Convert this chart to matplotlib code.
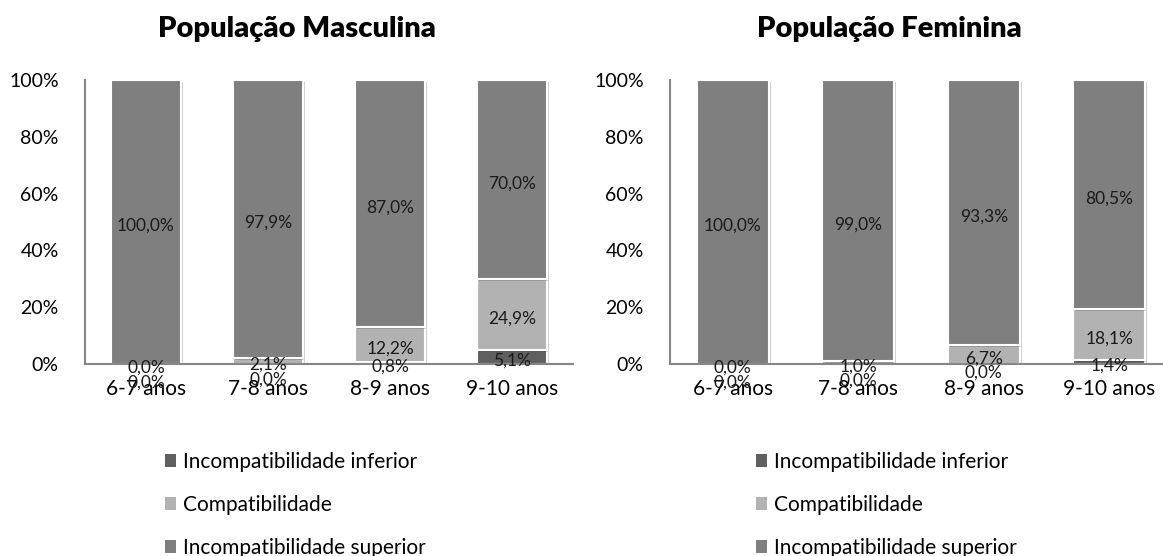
import matplotlib
matplotlib.use("Agg")
import matplotlib.pyplot as plt
import matplotlib.patheffects as pe
import matplotlib.transforms as mtransforms
from matplotlib.patches import Patch

categories = ["6-7 anos", "7-8 anos", "8-9 anos", "9-10 anos"]
series_names = ["Incompatibilidade inferior", "Compatibilidade", "Incompatibilidade superior"]
male_inferior = [0.0, 0.0, 0.8, 5.1]
male_compat = [0.0, 2.1, 12.2, 24.9]
male_superior = [100.0, 97.9, 87.0, 70.0]
female_inferior = [0.0, 0.0, 0.0, 1.4]
female_compat = [0.0, 1.0, 6.7, 18.1]
female_superior = [100.0, 99.0, 93.3, 80.5]
titles = ["População Masculina", "População Feminina"]
yticks = [0, 20, 40, 60, 80, 100]

colors = ["#5f5f5f", "#b2b2b2", "#7f7f7f"]

plt.rcParams["font.family"] = ["Lato", "DejaVu Sans"]

W, H = 1163, 556
fig = plt.figure(figsize=(W / 100, H / 100), dpi=100)

def ax_rect(x0, x1, ytop, ybot):
    return [x0 / W, 1 - ybot / H, (x1 - x0) / W, (ybot - ytop) / H]

axes = [fig.add_axes(ax_rect(85, 573, 80, 364)), fig.add_axes(ax_rect(670, 1172, 80, 364))]
data = [(male_inferior, male_compat, male_superior),
        (female_inferior, female_compat, female_superior)]
title_x = [297, 889]
legend_x = [165, 756]

shadow = [pe.SimplePatchShadow(offset=(1.5, -1.5), shadow_rgbFace="#000000", alpha=0.18), pe.Normal()]

def fmt(v):
    return f"{v:.1f}%".replace(".", ",")

for ax, (inf, comp, sup), title, tx, lx in zip(axes, data, titles, title_x, legend_x):
    x = list(range(len(categories)))
    bottoms = [0.0] * len(categories)
    centers_all = []
    for vals, col, name in zip((inf, comp, sup), colors, series_names):
        bars = ax.bar(x, vals, width=0.57, bottom=bottoms, color=col,
                      edgecolor="white", linewidth=1.5, label=name, zorder=2)
        for b in bars:
            b.set_path_effects(shadow)
        centers_all.append([b0 + v / 2 for b0, v in zip(bottoms, vals)])
        bottoms = [b0 + v for b0, v in zip(bottoms, vals)]
    trans = mtransforms.offset_copy(ax.transData, fig=fig, x=0, y=-4, units="dots")
    gap = 5.0
    for i in range(len(categories)):
        ys = [centers_all[k][i] for k in range(3)]
        if ys[2] - ys[1] < gap:
            ys[1] = ys[2] - gap
        if ys[1] - ys[0] < gap:
            ys[0] = ys[1] - gap
        vals = [inf[i], comp[i], sup[i]]
        for k in range(3):
            ax.text(i, ys[k], fmt(vals[k]), ha="center", va="center", transform=trans,
                    fontsize=12.5, color="#1a1a1a", zorder=5, clip_on=False)
    ax.set_xlim(-0.5, len(categories) - 0.5)
    ax.set_ylim(0, 100)
    ax.set_yticks(yticks)
    ax.set_yticklabels([f"{t}%" for t in yticks], fontsize=14)
    ax.set_xticks(x)
    ax.set_xticklabels(categories, fontsize=15)
    ax.tick_params(axis="both", length=0)
    ax.tick_params(axis="y", pad=19)
    ax.tick_params(axis="x", pad=10.5)
    for s in ("top", "right"):
        ax.spines[s].set_visible(False)
    for s in ("left", "bottom"):
        ax.spines[s].set_color("#868686")
        ax.spines[s].set_linewidth(1.5)
    fig.text(tx / W, 1 - 29 / H, title, ha="center", va="center",
             fontsize=21, fontweight="heavy", color="black")

    handles = [Patch(facecolor=c, edgecolor="none") for c in colors]
    fig.legend(handles, series_names, loc="upper left",
               bbox_to_anchor=(lx / W, 1 - 452 / H), frameon=False,
               fontsize=15, handlelength=0.55, handleheight=0.55,
               handletextpad=0.3, labelspacing=1.1, borderpad=0, borderaxespad=0)

fig.savefig("out.png", dpi=100)
